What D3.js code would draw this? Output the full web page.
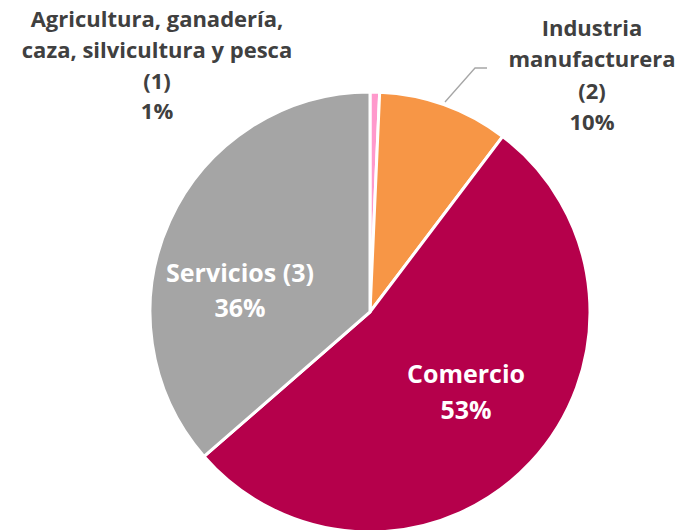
<!DOCTYPE html>
<html><head><meta charset="utf-8">
<script src="https://cdn.jsdelivr.net/npm/d3@7"></script>
<style>body{margin:0;background:#fff}svg{display:block}text{font-family:"Open Sans","Noto Sans",sans-serif;font-weight:700}</style>
</head><body><svg id="c" width="682" height="530"></svg>
<script>
const categories = ["Agricultura, ganadería, caza, silvicultura y pesca (1)", "Industria manufacturera (2)", "Comercio", "Servicios (3)"];
const values = [0.7, 9.6, 53.3, 36.4];
const percentLabels = ["1%", "10%", "53%", "36%"];
const colors = ["#FF99CC", "#F79646", "#B5004B", "#A5A5A5"];

const svg = d3.select("#c");
const cx = 370, cy = 312, R = 220;
const g = svg.append("g").attr("transform", `translate(${cx},${cy})`);
const pie = d3.pie().sort(null).value(d => d)(values);
const arc = d3.arc().innerRadius(0).outerRadius(R);
g.selectAll("path").data(pie).join("path")
  .attr("d", arc).attr("fill", (d, i) => colors[i])
  .attr("stroke", "#fff").attr("stroke-width", 3).attr("stroke-linejoin", "miter");

// leader line for Industria
svg.append("polyline").attr("points", "445,102 475,68 487,68")
  .attr("fill", "none").attr("stroke", "#A6A6A6").attr("stroke-width", 1.3);

function label(lines, x, y0, dy, fill, size) {
  const t = svg.append("text").attr("text-anchor", "middle").attr("fill", fill).attr("font-size", size);
  lines.forEach((l, i) => t.append("tspan").attr("x", x).attr("y", y0 + i * dy).text(l));
}
const dark = "#404040";
label(["Agricultura, ganadería,", "caza, silvicultura y pesca", "(1)", percentLabels[0]], 157, 27, 30.8, dark, 22);
label(["Industria", "manufacturera", "(2)", percentLabels[1]], 592, 36, 31.3, dark, 22);
label(["Comercio", percentLabels[2]], 466, 383, 36, "#fff", 25);
label(["Servicios (3)", percentLabels[3]], 240, 282, 35, "#fff", 25);
</script></body></html>
